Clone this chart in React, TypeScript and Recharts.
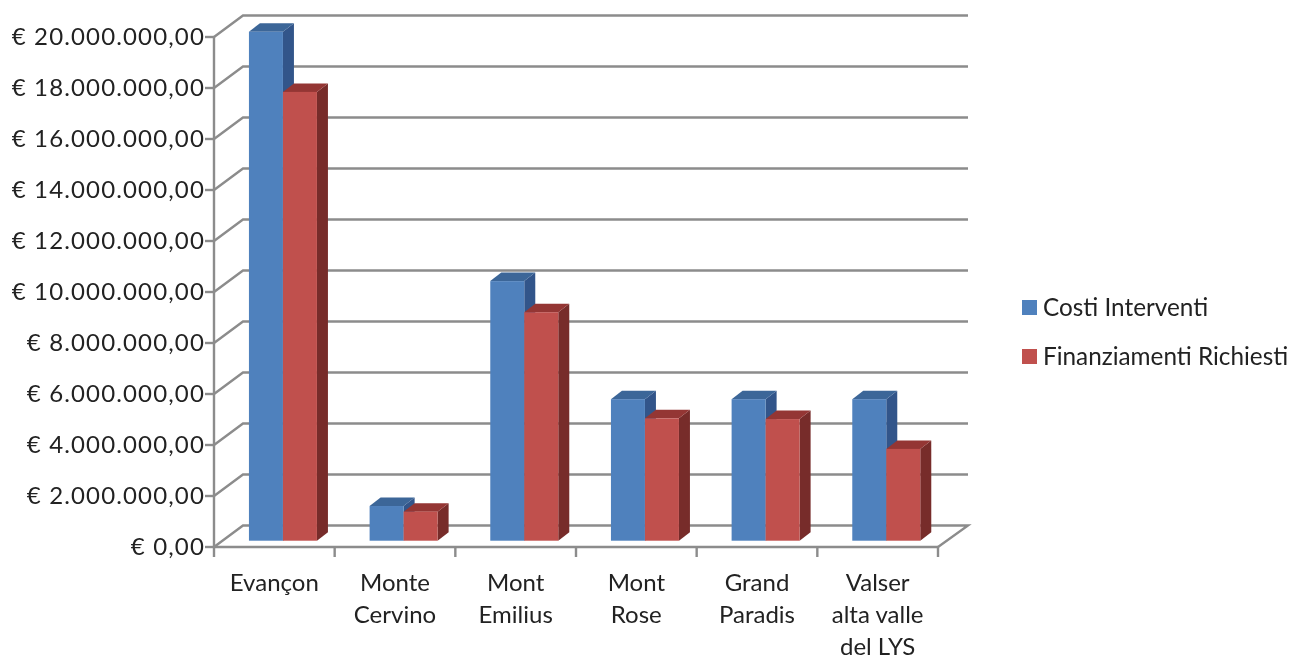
import React from "react";
import { BarChart, Bar, XAxis, YAxis, CartesianGrid, Legend } from "recharts";

const categories = ["Evançon", "Monte Cervino", "Mont Emilius", "Mont Rose", "Grand Paradis", "Valser alta valle del LYS"];
const tickLines = [["Evançon"], ["Monte", "Cervino"], ["Mont", "Emilius"], ["Mont", "Rose"], ["Grand", "Paradis"], ["Valser", "alta valle", "del LYS"]];
const costi = [19960000, 1360000, 10180000, 5550000, 5550000, 5550000];
const finanziamenti = [17600000, 1140000, 8960000, 4800000, 4770000, 3600000];
const yTicks = [0, 2000000, 4000000, 6000000, 8000000, 10000000, 12000000, 14000000, 16000000, 18000000, 20000000];

const data = categories.map((name, i) => ({ name, costi: costi[i], finanziamenti: finanziamenti[i] }));

const FONT = "Lato, 'Open Sans', sans-serif";
const GREY = "#8c8c8c";
const TEXT = "#222222";
const fmt = (v: number) => "€ " + String(v).replace(/\B(?=(\d{3})+$)/g, ".") + ",00";

const BLUE = { front: "#4f81bd", top: "#3c6698", side: "#32558a" };
const RED = { front: "#c0504d", top: "#943634", side: "#772c2a" };

const box = (c: typeof BLUE) => (p: any) => {
  const dx = 9, dy = -6.3, ox = 11, oy = -8.5;
  const x = p.x + dx, y = p.y + dy, w = p.width, h = p.height;
  return (
    <g>
      <polygon points={`${x + w},${y} ${x + w + ox},${y + oy} ${x + w + ox},${y + h + oy} ${x + w},${y + h}`} fill={c.side} />
      <polygon points={`${x},${y} ${x + ox},${y + oy} ${x + w + ox},${y + oy} ${x + w},${y}`} fill={c.top} />
      <rect x={x} y={y} width={w} height={h} fill={c.front} />
    </g>
  );
};

const gridLine = (p: any) => {
  const { x1, y1, x2, index } = p;
  const isZero = Math.abs(y1 - 547) < 1;
  return (
    <g key={index} fill="none" stroke={GREY} strokeWidth={2.4}>
      <polyline points={`${x1},${y1} ${x1 + 29},${y1 - 21.5} ${x2 + 30},${y1 - 21.5}${isZero ? ` ${x2},${y1}` : ""}`} />
    </g>
  );
};

const YTick = (p: any) => (
  <g>
    <line x1={p.x - 9} x2={p.x} y1={p.y} y2={p.y} stroke={GREY} strokeWidth={2.4} />
    <text x={p.x - 9} y={p.y + 7.5} textAnchor="end" fontFamily={FONT} fontSize={24} letterSpacing={1.15} fill={TEXT}>
      {fmt(p.payload.value)}
    </text>
  </g>
);

const BAND = 724 / 6;

const XTick = (p: any) => {
  const lines = tickLines[p.index] ?? [];
  const left = p.x - BAND / 2;
  const right = p.x + BAND / 2;
  return (
    <g>
      <line x1={left} x2={left} y1={p.y} y2={p.y + 10} stroke={GREY} strokeWidth={2.4} />
      {p.index === categories.length - 1 && (
        <line x1={right} x2={right} y1={p.y} y2={p.y + 10} stroke={GREY} strokeWidth={2.4} />
      )}
      <text textAnchor="middle" fontFamily={FONT} fontSize={24} fill={TEXT}>
        {lines.map((l, i) => (
          <tspan key={i} x={p.x} y={591 + i * 32}>{l}</tspan>
        ))}
      </text>
    </g>
  );
};

const LegendContent = (p: any) => (
  <div style={{ position: "relative", height: 100, fontFamily: FONT, fontSize: 24.3, color: TEXT }}>
    {(p.payload ?? []).map((e: any, i: number) => (
      <div key={i} style={{ position: "absolute", left: 84, top: 7 + i * 49, whiteSpace: "nowrap", lineHeight: "32px" }}>
        <span style={{ position: "absolute", left: 0, top: 9, width: 15, height: 15, background: e.color }} />
        <span style={{ position: "absolute", left: 21, top: 0 }}>{e.value}</span>
      </div>
    ))}
  </div>
);

export default function App() {
  return (
    <div style={{ position: "absolute", left: 0, top: 0, width: 1294, height: 657, background: "#fff", filter: "blur(0.6px)" }}>
      <BarChart
        width={1294}
        height={657}
        data={data}
        margin={{ top: 37, right: 0, bottom: 0, left: 0 }}
        barCategoryGap="21.5%"
        barGap={0}
      >
        <CartesianGrid vertical={false} horizontal={gridLine} />
        <XAxis
          dataKey="name"
          height={110}
          interval={0}
          tick={XTick}
          tickLine={false}
          tickSize={0}
          tickMargin={0}
          axisLine={{ stroke: GREY, strokeWidth: 2.4 }}
        />
        <YAxis
          width={214}
          domain={[0, 20000000]}
          ticks={yTicks}
          interval={0}
          tick={YTick}
          tickLine={false}
          tickSize={0}
          tickMargin={0}
          axisLine={{ stroke: GREY, strokeWidth: 2.4 }}
        />
        <Legend
          layout="vertical"
          align="right"
          verticalAlign="middle"
          width={356}
          wrapperStyle={{ left: 938, top: 284, width: 356 }}
          content={LegendContent}
        />
        <Bar dataKey="costi" name="Costi Interventi" fill={BLUE.front} shape={box(BLUE)} isAnimationActive={false} />
        <Bar dataKey="finanziamenti" name="Finanziamenti Richiesti" fill={RED.front} shape={box(RED)} isAnimationActive={false} />
      </BarChart>
    </div>
  );
}
